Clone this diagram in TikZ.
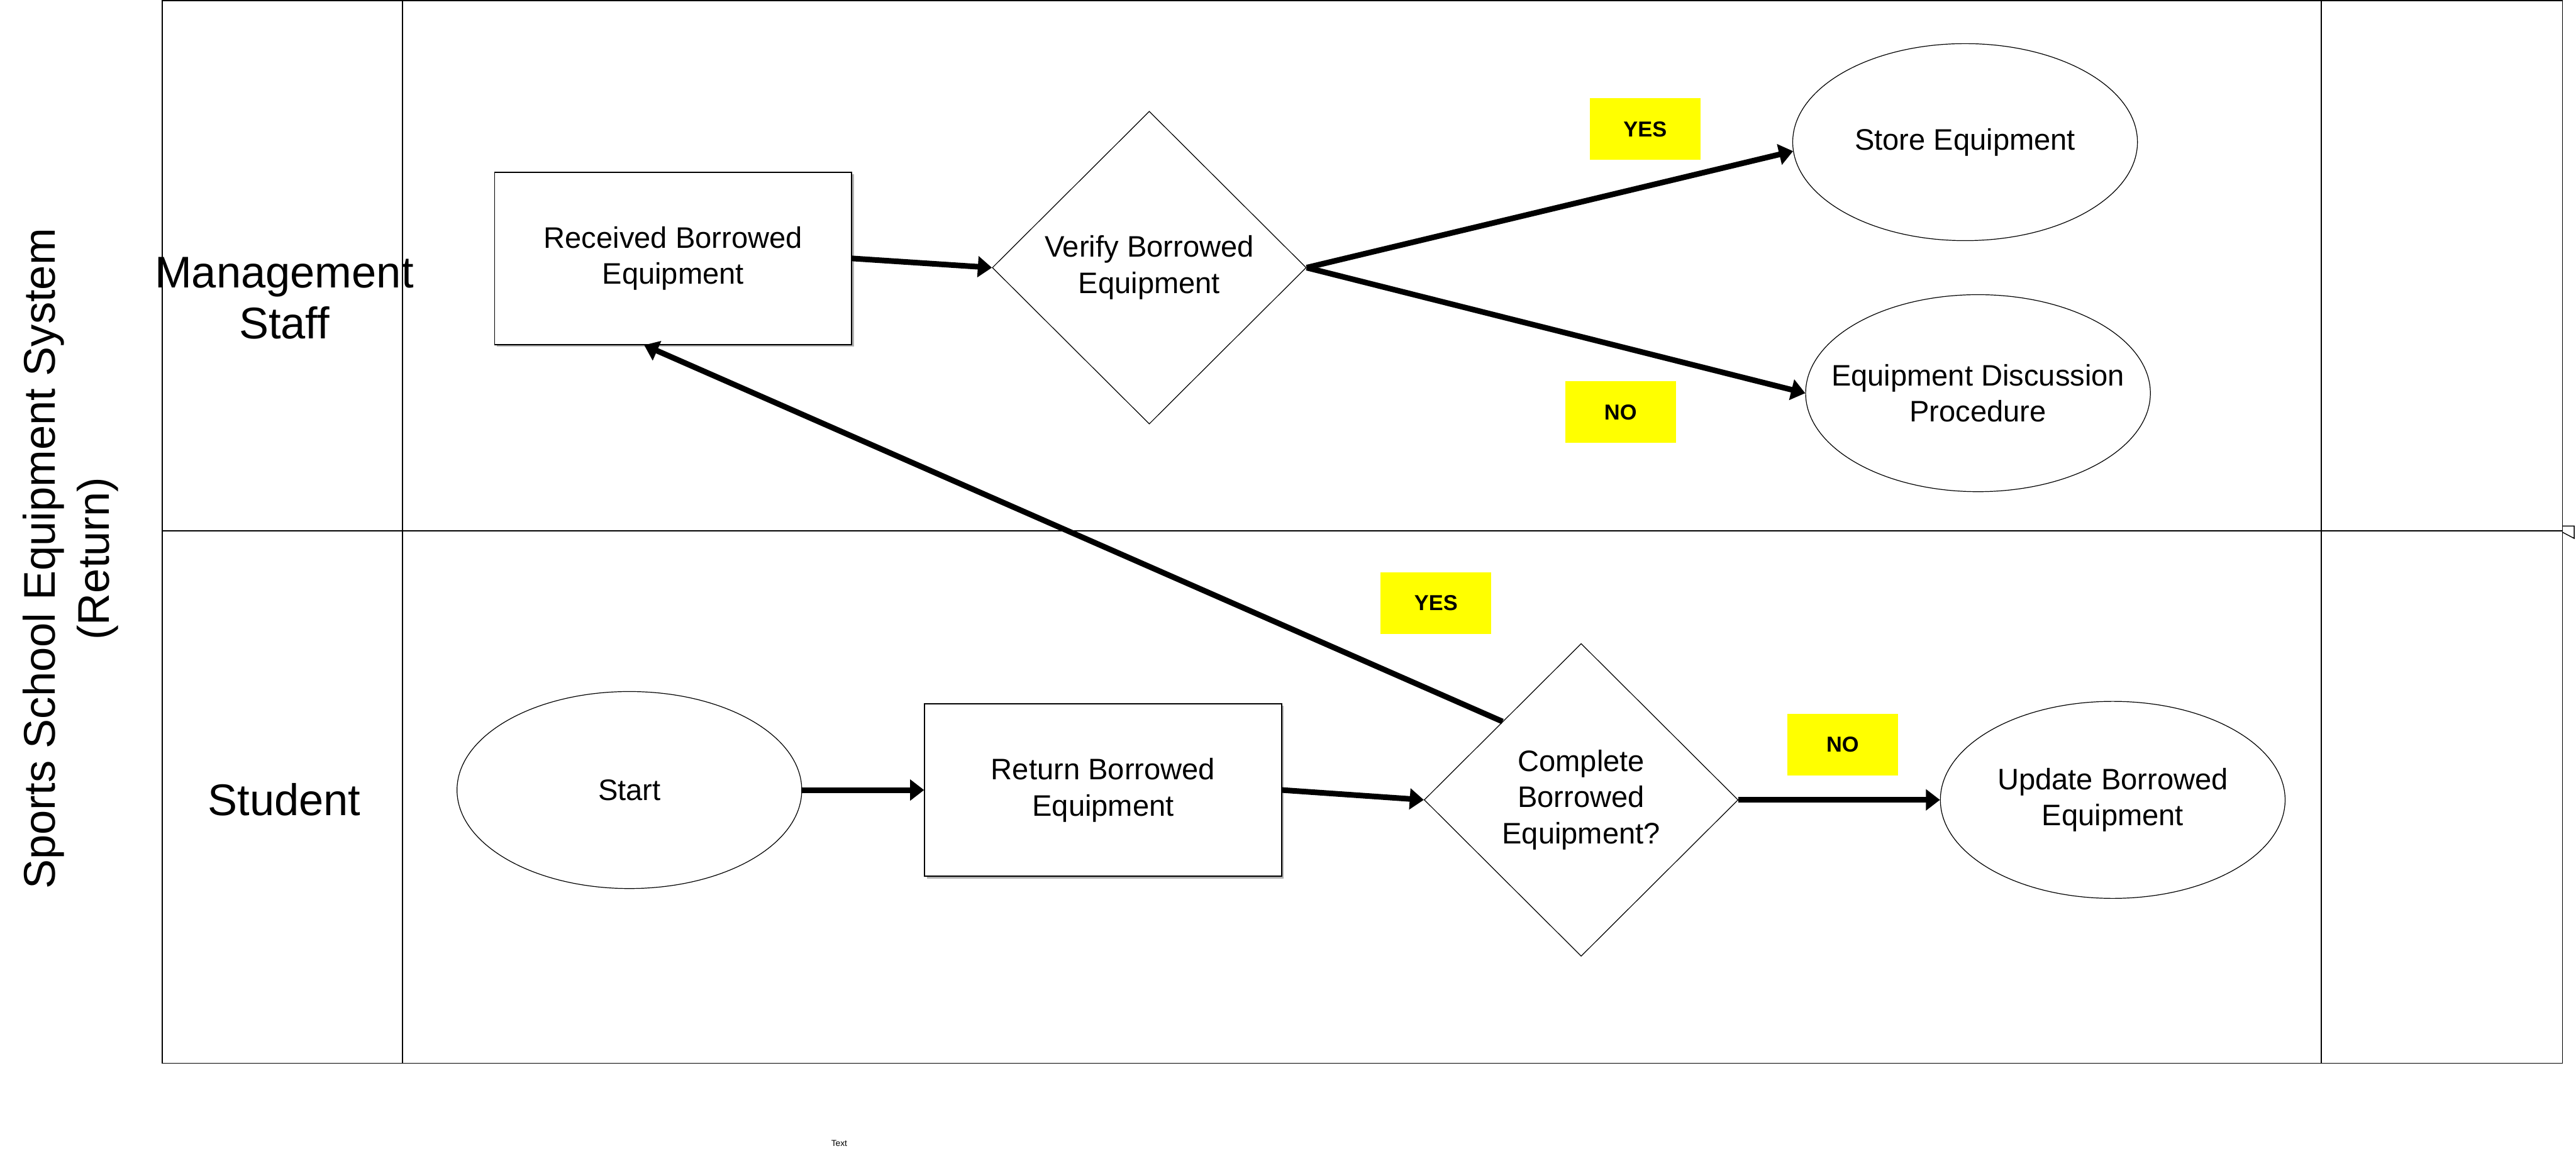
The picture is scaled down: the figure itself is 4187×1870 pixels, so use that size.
\documentclass[tikz,border=0pt]{standalone}
\usepackage{fontspec}
\setmainfont{Liberation Sans}
\usetikzlibrary{shapes.geometric,arrows.meta,shadows}
\definecolor{tagyellow}{RGB}{255,255,0}
\begin{document}
\begin{tikzpicture}[x=0.01cm,y=-0.01cm,
  frame/.style={line width=0.5pt},
  proc/.style={draw,line width=0.45pt,fill=white,rectangle,minimum width=5.8cm,minimum height=2.8cm,inner sep=0pt,align=center,font=\fontsize{13.7pt}{16.8pt}\selectfont,drop shadow={shadow xshift=0.035cm,shadow yshift=-0.035cm,fill=black!60,opacity=0.5}},
  decide/.style={draw,line width=0.35pt,fill=white,diamond,minimum width=5.1cm,minimum height=5.08cm,inner sep=0pt,align=center,font=\fontsize{13.7pt}{16.8pt}\selectfont},
  term/.style={draw,line width=0.35pt,fill=white,ellipse,minimum width=5.6cm,minimum height=3.2cm,inner xsep=-0.6cm,inner ysep=-0.3cm,align=center,font=\fontsize{13.7pt}{16.8pt}\selectfont},
  tag/.style={fill=tagyellow,minimum width=1.8cm,minimum height=1.0cm,inner sep=0pt,font=\bfseries\fontsize{10pt}{12pt}\selectfont},
  lane/.style={align=center,font=\fontsize{20.5pt}{23.6pt}\selectfont},
  flow/.style={line width=2.6pt,-{Triangle[length=6.5pt,width=9.5pt]}}
]
\useasboundingbox (0,0) rectangle (4187,1870);
% swimlane frame
\draw[frame] (264,1) rectangle (4165,1728);
\draw[frame] (654,1) -- (654,1728);
\draw[frame] (3773,1) -- (3773,1728);
\draw[frame] (264,863) -- (4165,863);
\draw[line width=0.4pt] (4165,855) -- (4184,855) -- (4184,875) -- (4165,865);
% title and lane labels
\node[rotate=90,align=center,font=\fontsize{20.5pt}{25pt}\selectfont] (title) at (115,908) {Sports School Equipment System\\(Return)};
\node[lane] (mgmt) at (462,485) {Management\\Staff};
\node[lane] (stud) at (462,1300) {Student};
% nodes
\node[proc] (recv) at (1094,420) {Received Borrowed\\Equipment};
\node[decide] (verify) at (1868,435) {Verify Borrowed\\Equipment};
\node[term] (store) at (3194,231) {Store Equipment};
\node[term] (disc) at (3215,639) {Equipment Discussion\\Procedure};
\node[term] (start) at (1023,1284) {Start};
\node[proc] (ret) at (1793,1284) {Return Borrowed\\Equipment};
\node[decide] (cmp) at (2570,1300) {Complete\\Borrowed\\Equipment?};
\node[term] (upd) at (3434,1300) {Update Borrowed\\Equipment};
% labels
\node[tag] (yes1) at (2674,210) {YES};
\node[tag] (no1) at (2634,670) {NO};
\node[tag] (yes2) at (2334,980) {YES};
\node[tag] (no2) at (2995,1210) {NO};
\node[font=\fontsize{4pt}{5pt}\selectfont] (txt) at (1364,1858) {Text};
% connectors
\draw[flow] (recv.east) -- (verify.west);
\draw[flow] (verify.east) -- (store.183);
\draw[flow] (verify.east) -- (disc.west);
\draw[flow] (start.east) -- (ret.west);
\draw[flow] (ret.east) -- (cmp.west);
\draw[flow] (cmp.east) -- (upd.west);
\draw[flow] (cmp.north west) -- ([xshift=-0.47cm]recv.south);
\end{tikzpicture}
\end{document}
